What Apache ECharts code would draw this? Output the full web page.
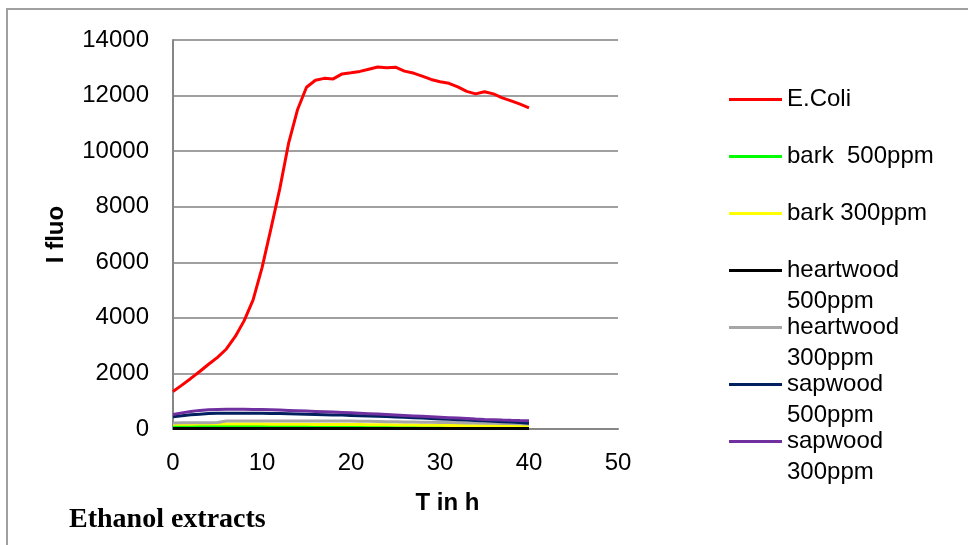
<!DOCTYPE html>
<html>
<head>
<meta charset="utf-8">
<script src="https://cdn.jsdelivr.net/npm/echarts@6/dist/echarts.min.js"></script>
<style>
html,body{margin:0;padding:0;background:#fff;}
#chart{width:968px;height:545px;}
</style>
</head>
<body>
<div id="chart"></div>
<script>
// ---- data ----
var hours = [0,1,2,3,4,5,6,7,8,9,10,11,12,13,14,15,16,17,18,19,20,21,22,23,24,25,26,27,28,29,30,31,32,33,34,35,36,37,38,39,40];
var eColi = [1350,1580,1820,2070,2330,2580,2880,3330,3900,4650,5800,7200,8650,10300,11500,12300,12550,12620,12600,12780,12820,12870,12950,13030,13000,13020,12880,12810,12700,12580,12500,12440,12310,12150,12060,12140,12060,11920,11810,11690,11560];
var bark500 = [110,115,120,125,128,130,130,128,126,124,122,120,118,116,114,112,110,108,106,104,102,100,98,96,94,92,90,88,86,84,82,80,78,76,74,72,70,68,66,63,60];
var bark300 = [170,172,174,176,178,180,180,179,178,177,176,175,174,172,170,168,166,164,162,161,160,158,155,152,149,146,143,140,137,134,131,128,125,122,120,118,116,114,112,111,110];
var heartwood500 = [20,20,20,20,20,20,20,20,20,20,20,20,20,20,20,20,20,20,20,20,20,20,20,20,20,20,20,20,20,20,20,20,20,20,20,20,20,20,20,20,20];
var heartwood300 = [220,222,224,226,228,232,285,288,290,290,290,290,290,290,290,290,289,288,287,286,285,280,275,270,265,260,255,250,245,240,235,230,225,220,215,210,205,200,195,188,180];
var sapwood500 = [440,480,510,535,555,565,570,570,570,568,565,560,555,548,540,532,524,516,508,500,490,480,470,458,446,434,420,406,392,378,364,350,336,322,308,294,280,264,248,230,210];
var sapwood300 = [520,580,630,670,695,705,710,710,708,705,700,690,680,668,656,644,632,620,608,596,582,568,552,536,520,504,488,472,456,440,424,408,392,376,360,346,334,322,312,305,300];
var seriesNames = ['E.Coli','bark  500ppm','bark 300ppm','heartwood 500ppm','heartwood 300ppm','sapwood 500ppm','sapwood 300ppm'];
var legendLabels = {
  'E.Coli': 'E.Coli',
  'bark  500ppm': 'bark  500ppm',
  'bark 300ppm': 'bark 300ppm',
  'heartwood 500ppm': 'heartwood\n500ppm',
  'heartwood 300ppm': 'heartwood\n300ppm',
  'sapwood 500ppm': 'sapwood\n500ppm',
  'sapwood 300ppm': 'sapwood\n300ppm'
};
var seriesValues = [eColi, bark500, bark300, heartwood500, heartwood300, sapwood500, sapwood300];
var seriesColors = ['#ff0000','#00ff00','#ffff00','#000000','#a6a6a6','#002060','#7030a0'];

// ---- chart ----
var FONT = 'Liberation Sans';
var chart = echarts.init(document.getElementById('chart'), null, {renderer:'canvas'});

function pairs(vals){
  return hours.map(function(h,i){ return [h, vals[i]]; });
}

var series = seriesNames.map(function(name, i){
  return {
    name: name,
    type: 'line',
    data: pairs(seriesValues[i]),
    symbol: 'none',
    smooth: false,
    lineStyle: {width: 3, color: seriesColors[i]},
    itemStyle: {color: seriesColors[i]},
    emphasis: {disabled: true},
    z: 2
  };
});

var option = {
  animation: false,
  backgroundColor: '#ffffff',
  graphic: [{
    type: 'rect',
    shape: {x: 7, y: 9, width: 1000, height: 600},
    style: {fill: 'none', stroke: '#a0a0a0', lineWidth: 2},
    silent: true,
    z: -10
  }],
  title: {
    text: 'Ethanol extracts',
    left: 69,
    top: 506,
    padding: 0,
    textStyle: {fontFamily: 'Liberation Serif', fontWeight: 'bold', fontSize: 28, color: '#000'}
  },
  grid: {left: 173, right: 350, top: 40, bottom: 116, containLabel: false},
  legend: {
    orient: 'vertical',
    left: 729,
    top: 53,
    padding: 0,
    icon: 'rect',
    itemWidth: 53,
    itemHeight: 3,
    itemGap: -36,
    data: seriesNames,
    formatter: function(name){
      var t = legendLabels[name];
      if (t.indexOf('\n') >= 0) return ' \n' + t;
      return ' \n' + t + '\n ';
    },
    textStyle: {fontFamily: FONT, fontSize: 24, color: '#000', lineHeight: 31},
    selectedMode: false
  },
  xAxis: {
    type: 'value',
    min: 0, max: 50, interval: 10,
    name: 'T in h',
    nameLocation: 'middle',
    nameGap: 62,
    nameTextStyle: {fontFamily: FONT, fontWeight: 'bold', fontSize: 24, color: '#000', padding: [0,0,0,104]},
    axisLine: {show: true, lineStyle: {color: '#868686', width: 2}},
    axisTick: {show: false},
    splitLine: {show: false},
    axisLabel: {fontFamily: FONT, fontSize: 24, color: '#000', margin: 22}
  },
  yAxis: {
    type: 'value',
    min: 0, max: 14000, interval: 2000,
    name: 'I fluo',
    nameLocation: 'middle',
    nameGap: 105,
    nameRotate: 90,
    nameTextStyle: {fontFamily: FONT, fontWeight: 'bold', fontSize: 24, color: '#000'},
    axisLine: {show: true, lineStyle: {color: '#868686', width: 2}},
    axisTick: {show: false},
    splitLine: {show: true, lineStyle: {color: '#a0a0a0', width: 2}},
    axisLabel: {fontFamily: FONT, fontSize: 24, color: '#000', margin: 24, formatter: function(v){ return String(v); }}
  },
  series: series
};
chart.setOption(option);
</script>
</body>
</html>
